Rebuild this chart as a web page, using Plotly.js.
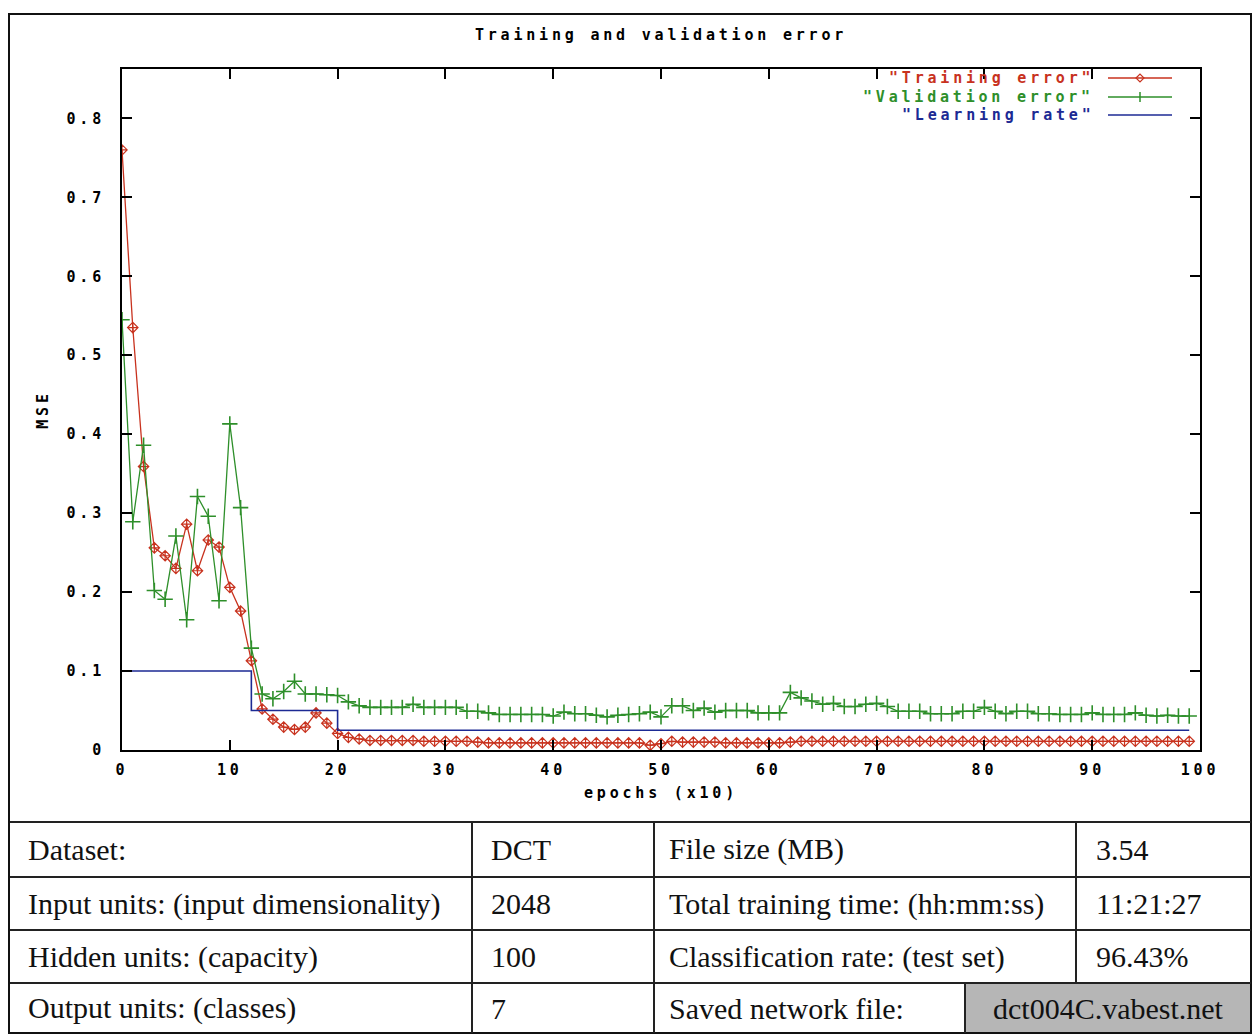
<!DOCTYPE html>
<html><head><meta charset="utf-8">
<script src="https://cdn.plot.ly/plotly-3.0.1.min.js"></script>
<style>
html,body{margin:0;padding:0;background:#fff;}
#chart{width:1255px;height:1035px;}
text[style*="Mono"]{letter-spacing:3.8px;}
</style></head><body><div id="chart"></div>
<script>
// ---- data ----
const epochs = [0,1,2,3,4,5,6,7,8,9,10,11,12,13,14,15,16,17,18,19,20,21,22,23,24,25,26,27,28,29,30,31,32,33,34,35,36,37,38,39,40,41,42,43,44,45,46,47,48,49,50,51,52,53,54,55,56,57,58,59,60,61,62,63,64,65,66,67,68,69,70,71,72,73,74,75,76,77,78,79,80,81,82,83,84,85,86,87,88,89,90,91,92,93,94,95,96,97,98,99];
const trainingError = [
0.760,0.535,0.359,0.256,0.246,0.230,0.286,0.227,0.266,0.257,
0.206,0.176,0.113,0.052,0.039,0.029,0.026,0.029,0.047,0.034,
0.021,0.016,0.014,0.012,0.012,0.012,0.012,0.012,0.011,0.011,
0.011,0.011,0.011,0.010,0.009,0.009,0.009,0.009,0.009,0.009,
0.009,0.009,0.009,0.009,0.009,0.009,0.009,0.009,0.009,0.006,
0.008,0.011,0.010,0.010,0.010,0.010,0.009,0.009,0.009,0.009,
0.009,0.009,0.010,0.011,0.011,0.011,0.011,0.011,0.011,0.011,
0.011,0.011,0.011,0.011,0.011,0.011,0.011,0.011,0.011,0.011,
0.011,0.011,0.011,0.011,0.011,0.011,0.011,0.011,0.011,0.011,
0.011,0.011,0.011,0.011,0.011,0.011,0.011,0.011,0.011,0.011];
const validationError = [
0.545,0.289,0.386,0.202,0.191,0.271,0.165,0.321,0.296,0.189,
0.413,0.307,0.129,0.071,0.065,0.074,0.087,0.071,0.071,0.070,
0.069,0.061,0.056,0.054,0.054,0.054,0.054,0.058,0.054,0.054,
0.054,0.054,0.049,0.049,0.047,0.045,0.045,0.045,0.045,0.045,
0.043,0.048,0.046,0.046,0.044,0.042,0.044,0.045,0.046,0.048,
0.042,0.056,0.056,0.050,0.053,0.048,0.050,0.050,0.050,0.047,
0.047,0.047,0.073,0.066,0.062,0.058,0.059,0.055,0.055,0.058,
0.059,0.055,0.049,0.049,0.049,0.046,0.046,0.046,0.049,0.049,
0.054,0.049,0.046,0.049,0.049,0.046,0.046,0.045,0.045,0.045,
0.047,0.045,0.045,0.045,0.047,0.044,0.043,0.044,0.043,0.043];
const lrEpochs = [0,12,20,99];
const learningRate = [0.1,0.05,0.025,0.025];
const seriesNames = ['"Training error"','"Validation error"','"Learning rate"'];
const xTickVals = [0,10,20,30,40,50,60,70,80,90,100];
const xTickText = ['0','10','20','30','40','50','60','70','80','90','100'];
const yTickVals = [0,0.1,0.2,0.3,0.4,0.5,0.6,0.7,0.8];
const yTickText = ['0','0.1','0.2','0.3','0.4','0.5','0.6','0.7','0.8'];
const tableLabelsLeft = ['Dataset:','Input units: (input dimensionality)','Hidden units: (capacity)','Output units: (classes)'];
const tableValuesLeft = ['DCT','2048','100','7'];
const tableLabelsRight = ['File size (MB)','Total training time: (hh:mm:ss)','Classification rate: (test set)','Saved network file:'];
const tableValuesRight = ['3.54','11:21:27','96.43%','dct004C.vabest.net'];

// ---- styles / layout helpers ----
const MONO = 'DejaVu Sans Mono';
const SERIF = 'Liberation Serif';
const RED = '#c8321e', GREEN = '#2e8f2a', BLUE = '#1c2a94';
const colors = [RED, GREEN, BLUE];
const W = 1255, H = 1035, ML = 122, MR = 55, MT = 69, MB = 285;
const pw = W-ML-MR, ph = H-MT-MB;
const px = x => (x-ML)/pw;
const py = y => (H-MB-y)/ph;
const monoFont = c => ({family:MONO, size:15, weight:'bold', color:c});

const traces = [
  {x: epochs, y: trainingError, name: seriesNames[0], type:'scatter', mode:'lines+markers',
   line:{color:RED, width:1.3}, marker:{symbol:'diamond-cross-open', size:8, color:RED, line:{width:1.2, color:RED}}},
  {x: epochs, y: validationError, name: seriesNames[1], type:'scatter', mode:'lines+markers',
   line:{color:GREEN, width:1.3}, marker:{symbol:'cross-thin-open', size:11, color:GREEN, line:{width:1.6, color:GREEN}}},
  {x: lrEpochs, y: learningRate, name: seriesNames[2], type:'scatter', mode:'lines',
   line:{color:BLUE, width:1.6, shape:'hv'}}
];

const shapes = [];
const annotations = [];
// legend (gnuplot style: text right-aligned, sample to the right)
const legRows = [78, 97, 115];
seriesNames.forEach((n,i)=>{
  annotations.push({xref:'paper', yref:'paper', x:px(1096), y:py(legRows[i]), xanchor:'right', yanchor:'middle',
    text:n, showarrow:false, font:monoFont(colors[i])});
  shapes.push({type:'line', xref:'paper', yref:'paper', x0:px(1108), x1:px(1172), y0:py(legRows[i]), y1:py(legRows[i]),
    line:{color:colors[i], width:1.5}});
});
// legend markers
{
  const cx = 1140, cy = legRows[0];
  const d = `M ${px(cx-4)} ${py(cy)} L ${px(cx)} ${py(cy-4)} L ${px(cx+4)} ${py(cy)} L ${px(cx)} ${py(cy+4)} Z`;
  shapes.push({type:'path', xref:'paper', yref:'paper', path:d, line:{color:RED, width:1.2}});
  const gy = legRows[1];
  shapes.push({type:'line', xref:'paper', yref:'paper', x0:px(cx), x1:px(cx), y0:py(gy-5), y1:py(gy+5), line:{color:GREEN, width:1.5}});
}

// outer frame
shapes.push({type:'rect', xref:'paper', yref:'paper', x0:px(9), x1:px(1251), y0:py(14), y1:py(1033), line:{color:'#111', width:2}});
// table
const rowEdges = [822, 877, 930, 983, 1033];
const colLeft = 10, colRight = 1251, col2 = 472, col3 = 654, col4 = 1076, col4last = 965;
shapes.push({type:'rect', xref:'paper', yref:'paper', x0:px(col4last), x1:px(colRight), y0:py(rowEdges[3]), y1:py(rowEdges[4]),
  fillcolor:'#b6b6b6', line:{width:0}, layer:'below'});
rowEdges.slice(0,4).forEach(r=>{
  shapes.push({type:'line', xref:'paper', yref:'paper', x0:px(colLeft), x1:px(colRight), y0:py(r), y1:py(r), line:{color:'#222', width:2}});
});
[[col2,822,1033],[col3,822,1033],[col4,822,983],[col4last,983,1033]].forEach(([x,a,b])=>{
  shapes.push({type:'line', xref:'paper', yref:'paper', x0:px(x), x1:px(x), y0:py(a), y1:py(b), line:{color:'#222', width:2}});
});
for (let i=0;i<4;i++){
  const cy = (rowEdges[i]+rowEdges[i+1])/2;
  const cells = [[tableLabelsLeft[i], 26],[tableValuesLeft[i], col2+17],[tableLabelsRight[i], col3+13]];
  cells.forEach(([t,x])=>annotations.push({xref:'paper', yref:'paper', x:px(x), y:py(cy), xanchor:'left', yanchor:'middle',
    text:t, showarrow:false, font:{family:SERIF, size:30, color:'#111'}}));
  if (i<3) {
    annotations.push({xref:'paper', yref:'paper', x:px(col4+18), y:py(cy), xanchor:'left', yanchor:'middle',
      text:tableValuesRight[i], showarrow:false, font:{family:SERIF, size:30, color:'#111'}});
  } else {
    annotations.push({xref:'paper', yref:'paper', x:px((col4last+colRight)/2), y:py(cy), xanchor:'center', yanchor:'middle',
      text:tableValuesRight[i], showarrow:false, font:{family:SERIF, size:30, color:'#111'}});
  }
}

const axisCommon = {showline:true, linecolor:'#000', linewidth:2, mirror:'ticks', ticks:'inside', ticklen:10, tickwidth:2,
  tickcolor:'#000', showgrid:false, zeroline:false, tickfont:monoFont('#000')};

const layout = {
  width:W, height:H, margin:{l:ML, r:MR, t:MT, b:MB}, paper_bgcolor:'#fff', plot_bgcolor:'#fff', showlegend:false,
  title:{text:'Training and validation error', font:monoFont('#000'), x:0.5, xref:'paper', xanchor:'center',
    y:1-35/H, yref:'container', yanchor:'middle'},
  xaxis:Object.assign({}, axisCommon, {range:[0,100], tickvals:xTickVals, ticktext:xTickText, ticklabelstandoff:5,
    title:{text:'epochs (x10)', font:monoFont('#000'), standoff:9}}),
  yaxis:Object.assign({}, axisCommon, {range:[0,0.8625], tickvals:yTickVals, ticktext:yTickText, ticklabelstandoff:12,
    title:{text:'MSE', font:monoFont('#000'), standoff:14}}),
  shapes:shapes, annotations:annotations
};
Plotly.newPlot('chart', traces, layout, {displayModeBar:false, staticPlot:true});
</script></body></html>
